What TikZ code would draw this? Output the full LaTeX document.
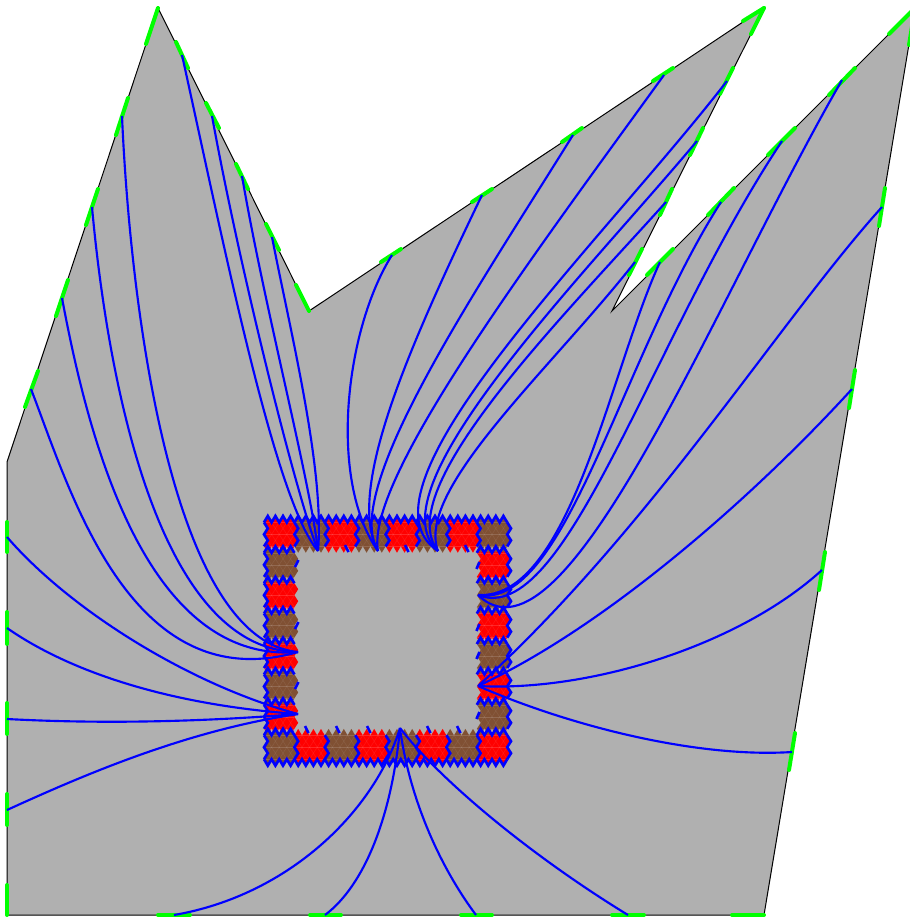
\documentclass[tikz,border=0pt]{standalone}
\definecolor{bodygray}{RGB}{176,176,176}
\definecolor{cellbrown}{RGB}{128,80,51}
\tikzset{
  outline/.style={draw=black,fill=bodygray,line width=.75pt,line join=miter},
  port/.style={draw={rgb,255:red,0;green,255;blue,0},line width=3pt,line cap=round},
  flux/.style={draw=blue,line width=1.6pt},
  cellline/.style={draw=blue,line width=2pt,line join=miter,miter limit=4},
  cellmesh/.style={draw=white,opacity=.08,line width=.4pt}
}
% one block of the ring, teeth fit the next block
\newcommand{\cellblock}[3]{
  \begin{scope}[shift={(264+#1*30.4,516+#2*30.4)}]
    \fill[#3] (0,6.4) -- (3.8,0) -- (7.6,6.4) -- (11.4,0) -- (15.2,6.4) -- (19,0) -- (22.8,6.4) -- (26.6,0) -- (30.4,6.4)
      -- (34.2,12.4) -- (30.4,18.4) -- (34.2,24.4) -- (30.4,30.4)
      -- (26.6,36.8) -- (22.8,30.4) -- (19,36.8) -- (15.2,30.4) -- (11.4,36.8) -- (7.6,30.4) -- (3.8,36.8) -- (0,30.4)
      -- (3.8,24.4) -- (0,18.4) -- (3.8,12.4) -- cycle;
    \foreach \ya/\yb in {0/6.4,12.4/6.4,12.4/18.4,24.4/18.4,24.4/30.4,36.8/30.4} {
      \draw[cellmesh] (0,\yb) -- (30.4,\yb);
      \foreach \k in {0,...,3}
        \draw[cellmesh] (\k*7.6,\yb) -- (\k*7.6+3.8,\ya) -- (\k*7.6+7.6,\yb);
    }
  \end{scope}
}
\newcommand{\zigtop}[2]{\draw[cellline,shift={(264+#1*30.4,516+#2*30.4)}] (0,6.4) -- (3.8,0) -- (7.6,6.4) -- (11.4,0) -- (15.2,6.4) -- (19,0) -- (22.8,6.4) -- (26.6,0) -- (30.4,6.4);}
\newcommand{\zigbot}[2]{\draw[cellline,shift={(264+#1*30.4,516+#2*30.4)}] (0,30.4) -- (3.8,36.8) -- (7.6,30.4) -- (11.4,36.8) -- (15.2,30.4) -- (19,36.8) -- (22.8,30.4) -- (26.6,36.8) -- (30.4,30.4);}
\newcommand{\zigside}[2]{\draw[cellline,shift={(264+#1*30.4,516+#2*30.4)}] (0,6.4) -- (3.8,12.4) -- (0,18.4) -- (3.8,24.4) -- (0,30.4);}
\begin{document}
\begin{tikzpicture}[x=.75pt,y=-.75pt]
  \useasboundingbox (0,0) rectangle (910,918);

  \draw[outline] (7,462) -- (158,8) -- (309,311) -- (764,8) -- (612,311) -- (915,8) -- (764,915) -- (7,915) -- cycle;

  % ports on the outer edge
  \foreach \xa/\ya/\xb/\yb in {
    7/522/7/552, 7/612/7/644, 7/703/7/734, 7/794/7/825, 7/885/7/915,
    158/915/190/915, 310/915/341/915, 461/915/492/915, 612/915/644/915, 732/915/764/915,
    789/770/795/733, 819/590/825/552, 849/408/855/370, 879/226/885/188, 909/45/915/8,
    647/275/673/249, 708/215/734/188, 768/155/795/128, 829/95/855/68, 889/34/915/8,
    764/8/751/34, 733/68/720/94, 703/128/690/155, 672/189/660/215, 642/249/629/275,
    743/21/764/8, 653/81/673/68, 562/142/582/128, 472/202/492/189, 381/262/401/249,
    309/311/296/285, 279/250/266/224, 248/189/236/164, 219/128/206/103, 188/68/176/42,
    158/8/146/44, 128/98/116/135, 98/189/86/225, 68/280/56/316, 38/371/25/407}
    \draw[port] (\xa,\ya) -- (\xb,\yb);

  % ring of blocks
  \foreach \i/\j in {0/0,2/0,4/0,6/0,7/1,7/3,7/5,7/7,5/7,3/7,1/7,0/6,0/4,0/2}
    \cellblock{\i}{\j}{red};
  \foreach \i/\j in {1/0,3/0,5/0,7/0,7/2,7/4,7/6,6/7,4/7,2/7,0/7,0/5,0/3,0/1}
    \cellblock{\i}{\j}{cellbrown};

  \foreach \i/\j in {0/0,1/0,2/0,3/0,4/0,5/0,6/0,7/0,0/1,0/2,0/3,0/4,0/5,0/6,0/7,7/1,7/2,7/3,7/4,7/5,7/6,7/7}
    \zigtop{\i}{\j};
  \foreach \i in {0,...,7}
    \zigbot{\i}{7};
  \foreach \i/\j in {0/0,0/1,0/2,0/3,0/4,0/5,0/6,0/7,1/0,2/0,3/0,4/0,5/0,6/0,7/0,1/7,2/7,3/7,4/7,5/7,6/7,7/7,8/0,8/1,8/2,8/3,8/4,8/5,8/6,8/7}
    \zigside{\i}{\j};

  % short ticks on the inner side
  \foreach \xa/\ya/\xb/\yb in {
    298.5/560/295/567, 298.5/622/295/629, 298.5/682/295/689,
    479.5/562/476.5/569, 479.5/624/476.5/631, 479.5/652/476.5/659, 479.5/712/476.5/719,
    345/545/348.5/552, 405/545/408.5/552, 465/545/468.5/552,
    305/726/308.5/733, 336/726/339.5/733, 367/726/370.5/733, 427/726/430.5/733, 457/726/460.5/733}
    \draw[cellline] (\xa,\ya) -- (\xb,\yb);

  % ends of the curves
  \foreach \name/\x/\y in {
    fanA/298/652, fanB/298/714, fanC/318/551, fanD/378/551, fanE/438/551, fanF/478/595, fanG/478/686, fanH/400/728,
    a1/122/116, a2/92/207, a3/62/298, a4/31/389,
    b1/7/537, b2/7/628, b3/7/719, b4/7/810,
    c1/182/55, c2/212/116, c3/242/176, c4/272/237,
    d1/392/255, d2/482/195, d3/573/135, d4/664/75,
    e1/727/81, e2/697/141, e3/666/202, e4/635/262,
    f1/660/262, f2/721/202, f3/782/141, f4/842/80,
    g1/882/207, g2/852/389, g3/822/570, g4/792/752,
    h1/174/915, h2/325/915, h3/476/915, h4/628/915}
    \coordinate (\name) at (\x,\y);

  \foreach \src/\dst/\ax/\ay/\bx/\by in {
    a1/fanA/130/300/170/640, a2/fanA/105/350/150/650, a3/fanA/85/420/140/665, a4/fanA/70/490/130/700,
    b1/fanB/70/610/190/685, b2/fanB/70/672/170/705, b3/fanB/100/724/200/722, b4/fanB/90/772/190/730,
    c1/fanC/225/250/275/500, c2/fanC/240/270/295/490, c3/fanC/265/310/310/480, c4/fanC/290/330/325/470,
    d1/fanD/345/330/328/480, d2/fanD/410/345/345/490, d3/fanD/480/285/340/490, d4/fanD/530/260/365/480,
    e1/fanE/600/245/345/490, e2/fanE/585/275/370/490, e3/fanE/560/320/390/490, e4/fanE/550/370/415/490,
    f1/fanF/610/370/570/600, f2/fanF/620/360/565/610, f3/fanF/650/340/565/630, f4/fanF/715/300/565/680,
    g1/fanG/780/320/650/530, g2/fanG/760/490/610/625, g3/fanG/740/645/590/692, g4/fanG/700/758/575/728,
    h1/fanH/290/895/375/810, h2/fanH/365/885/392/815, h3/fanH/435/860/408/790, h4/fanH/530/855/440/780}
    \draw[flux] (\src) .. controls (\ax,\ay) and (\bx,\by) .. (\dst);

\end{tikzpicture}
\end{document}
